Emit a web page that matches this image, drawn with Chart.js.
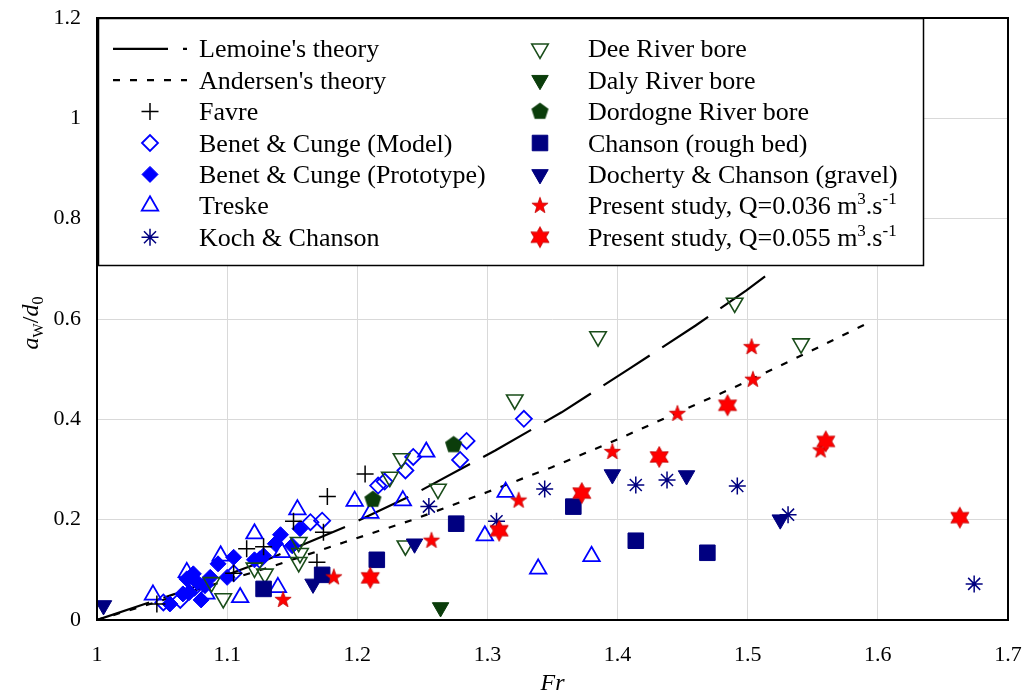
<!DOCTYPE html>
<html>
<head>
<meta charset="utf-8">
<script src="https://cdn.jsdelivr.net/npm/chart.js@4.4.0/dist/chart.umd.min.js"></script>
<style>
  html, body { margin: 0; padding: 0; background: #fff; }
  #wrap { width: 1028px; height: 698px; }
</style>
</head>
<body>
<div id="wrap"><canvas id="chart" width="1028" height="698"></canvas></div>
<script>
const xTicks = ['1', '1.1', '1.2', '1.3', '1.4', '1.5', '1.6', '1.7'];
const yTicks = ['0', '0.2', '0.4', '0.6', '0.8', '1', '1.2'];

// theory curves
const lemoine = [[1, 0], [1.06, 0.052], [1.126, 0.115], [1.192, 0.187], [1.243, 0.25], [1.306, 0.338],
  [1.357, 0.414], [1.408, 0.499], [1.46, 0.587], [1.499, 0.657], [1.521, 0.70]];
const andersen = [[1, 0], [1.07, 0.055], [1.136, 0.108], [1.19, 0.155], [1.243, 0.20], [1.30, 0.255],
  [1.35, 0.305], [1.40, 0.36], [1.45, 0.418], [1.49, 0.464], [1.55, 0.538], [1.59, 0.589]];

// measured data
const favre = [[1.046, 0.032], [1.105, 0.093], [1.115, 0.142], [1.128, 0.146], [1.151, 0.197],
  [1.169, 0.115], [1.174, 0.175], [1.177, 0.246], [1.206, 0.291]];
const benetModel = [[1.051, 0.035], [1.064, 0.040], [1.075, 0.065], [1.083, 0.070], [1.105, 0.093],
  [1.125, 0.120], [1.164, 0.195], [1.173, 0.198], [1.216, 0.268], [1.221, 0.276], [1.237, 0.298],
  [1.243, 0.325], [1.279, 0.319], [1.284, 0.357], [1.328, 0.401]];
const benetProto = [[1.056, 0.032], [1.066, 0.052], [1.069, 0.082], [1.071, 0.055], [1.074, 0.092],
  [1.077, 0.075], [1.080, 0.040], [1.083, 0.070], [1.087, 0.085], [1.093, 0.112], [1.100, 0.085],
  [1.105, 0.125], [1.121, 0.120], [1.128, 0.128], [1.137, 0.152], [1.141, 0.170], [1.150, 0.148],
  [1.156, 0.182]];
const treske = [[1.043, 0.050], [1.069, 0.095], [1.084, 0.052], [1.095, 0.128], [1.110, 0.045],
  [1.121, 0.172], [1.139, 0.065], [1.142, 0.135], [1.154, 0.220], [1.198, 0.237], [1.210, 0.213],
  [1.235, 0.238], [1.253, 0.335], [1.298, 0.168], [1.314, 0.255], [1.339, 0.102], [1.380, 0.127]];
const koch = [[1.255, 0.226], [1.307, 0.197], [1.344, 0.261], [1.414, 0.269], [1.438, 0.279],
  [1.492, 0.267], [1.531, 0.210], [1.674, 0.072]];
const dee = [[1.088, 0.075], [1.097, 0.043], [1.121, 0.104], [1.129, 0.092], [1.155, 0.155],
  [1.156, 0.133], [1.155, 0.115], [1.225, 0.285], [1.234, 0.322], [1.237, 0.148], [1.262, 0.261],
  [1.321, 0.439], [1.385, 0.565], [1.490, 0.632], [1.541, 0.551]];
const daly = [[1.264, 0.025]];
const dordogne = [[1.212, 0.240], [1.274, 0.349]];
const chanson = [[1.128, 0.062], [1.173, 0.090], [1.215, 0.120], [1.276, 0.192], [1.366, 0.226],
  [1.414, 0.158], [1.469, 0.134]];
const docherty = [[1.005, 0.029], [1.166, 0.072], [1.244, 0.152], [1.396, 0.290], [1.453, 0.288],
  [1.525, 0.200]];
const present036 = [[1.143, 0.040], [1.182, 0.085], [1.257, 0.158], [1.324, 0.238], [1.396, 0.335],
  [1.446, 0.411], [1.504, 0.479], [1.503, 0.544], [1.556, 0.338]];
const present055 = [[1.210, 0.084], [1.309, 0.178], [1.3725, 0.253], [1.432, 0.325], [1.4845, 0.428],
  [1.560, 0.356], [1.663, 0.204]];

const pts = arr => arr.map(([x, y]) => ({ x, y }));

const BLUE = '#0000ff', NAVY = '#000080', GREEN = '#0b3d0b', RED = '#ff0000';
const SERIF = '"Liberation Serif", "Times New Roman", serif';

function polyImg(n, outer, inner, fill, stroke) {
  const s = Math.ceil(outer * 2 + 3);
  const c = document.createElement('canvas');
  c.width = c.height = s;
  const g = c.getContext('2d');
  const k = inner ? n * 2 : n;
  g.beginPath();
  for (let i = 0; i < k; i++) {
    const r = inner && i % 2 ? inner : outer;
    const a = -Math.PI / 2 + i * 2 * Math.PI / k;
    const px = s / 2 + r * Math.cos(a), py = s / 2 + r * Math.sin(a);
    i ? g.lineTo(px, py) : g.moveTo(px, py);
  }
  g.closePath();
  g.fillStyle = fill;
  g.fill();
  if (stroke) { g.strokeStyle = stroke; g.lineWidth = 0.8; g.stroke(); }
  return c;
}

const pentagon = polyImg(5, 9, 0, GREEN);
const star5 = polyImg(5, 8.5, 3.4, RED, '#c00000');
const star6 = polyImg(6, 10.5, 5.9, RED, '#c00000');

const markerSet = (label, data, leg, style) => Object.assign({
  label, data: pts(data), leg, showLine: false, borderWidth: 1.8,
  backgroundColor: 'rgba(0,0,0,0)'
}, style);

const datasets = [
  markerSet('Present study, Q=0.055 m{3}.s{-1}', present055, [1, 6], { pointStyle: star6, pointRadius: 10 }),
  markerSet('Present study, Q=0.036 m{3}.s{-1}', present036, [1, 5], { pointStyle: star5, pointRadius: 8 }),
  markerSet('Koch & Chanson', koch, [0, 6], { pointStyle: 'star', pointRadius: 8.5, borderColor: NAVY, borderWidth: 1.5 }),
  markerSet('Docherty & Chanson (gravel)', docherty, [1, 4], { pointStyle: 'triangle', rotation: 180, pointRadius: 9.5, borderColor: NAVY, backgroundColor: NAVY, borderWidth: 1 }),
  markerSet('Chanson (rough bed)', chanson, [1, 3], { pointStyle: 'rect', pointRadius: 11, borderColor: NAVY, backgroundColor: NAVY, borderWidth: 1 }),
  markerSet('Dordogne River bore', dordogne, [1, 2], { pointStyle: pentagon, pointRadius: 9 }),
  markerSet('Daly River bore', daly, [1, 1], { pointStyle: 'triangle', rotation: 180, pointRadius: 9.5, borderColor: GREEN, backgroundColor: GREEN, borderWidth: 1 }),
  markerSet('Dee River bore', dee, [1, 0], { pointStyle: 'triangle', rotation: 180, pointRadius: 9.5, borderColor: '#1a4d1a', borderWidth: 1.6 }),
  markerSet('Favre', favre, [0, 2], { pointStyle: 'cross', pointRadius: 8.5, borderColor: '#000', borderWidth: 1.5 }),
  markerSet('Treske', treske, [0, 5], { pointStyle: 'triangle', pointRadius: 9.5, borderColor: BLUE, borderWidth: 1.8 }),
  markerSet('Benet & Cunge (Prototype)', benetProto, [0, 4], { pointStyle: 'rectRot', pointRadius: 8, borderColor: BLUE, backgroundColor: BLUE, borderWidth: 1 }),
  markerSet('Benet & Cunge (Model)', benetModel, [0, 3], { pointStyle: 'rectRot', pointRadius: 8, borderColor: BLUE, borderWidth: 1.8 }),
  { label: "Andersen's theory", data: pts(andersen), leg: [0, 1], showLine: true, pointRadius: 0,
    borderColor: '#000', borderWidth: 2.2, borderDash: [7, 10], fill: false },
  { label: "Lemoine's theory", data: pts(lemoine), leg: [0, 0], showLine: true, pointRadius: 0,
    borderColor: '#000', borderWidth: 2.2, borderDash: [55, 15], fill: false }
];

function drawParts(ctx, parts, x, y, align) {
  let total = 0;
  parts.forEach(p => { ctx.font = p.font; p.w = ctx.measureText(p.t).width; total += p.w; });
  let cx = align === 'center' ? x - total / 2 : x;
  parts.forEach(p => {
    ctx.font = p.font;
    ctx.fillText(p.t, cx, y + (p.dy || 0));
    cx += p.w;
  });
}

function labelParts(text) {
  return text.split(/\{([^}]*)\}/).map((t, i) => i % 2
    ? { t, font: '17px ' + SERIF, dy: -10 }
    : { t, font: '26px ' + SERIF });
}

const boxLegend = {
  id: 'boxLegend',
  afterDatasetsDraw(chart) {
    const { ctx, chartArea: a } = chart;
    ctx.save();
    const bx = a.left + 1, by = a.top, bw = 826, bh = 248;
    ctx.fillStyle = '#fff';
    ctx.fillRect(bx, by, bw, bh);
    ctx.strokeStyle = '#000';
    ctx.lineWidth = 1.5;
    ctx.strokeRect(bx + 0.5, by + 0.5, bw - 1, bh - 1);

    chart.data.datasets.forEach(ds => {
      const [col, row] = ds.leg;
      const base = by + 39.3 + row * 31.4;
      const cy = base - 8.5;
      const mx = col ? bx + 442 : bx + 52;
      const tx = col ? bx + 490 : bx + 101;
      ctx.save();
      if (ds.showLine) {
        ctx.strokeStyle = ds.borderColor;
        ctx.lineWidth = ds.borderWidth;
        ctx.setLineDash(ds.borderDash);
        ctx.beginPath();
        ctx.moveTo(bx + 15, cy);
        ctx.lineTo(bx + 89, cy);
        ctx.stroke();
      } else {
        ctx.setLineDash([]);
        ctx.fillStyle = ds.backgroundColor;
        ctx.strokeStyle = ds.borderColor || '#000';
        ctx.lineWidth = ds.borderWidth;
        Chart.helpers.drawPoint(ctx, {
          pointStyle: ds.pointStyle, rotation: ds.rotation || 0,
          radius: ds.pointRadius, borderWidth: ds.borderWidth
        }, mx, cy);
      }
      ctx.restore();
      ctx.fillStyle = '#000';
      ctx.textBaseline = 'alphabetic';
      ctx.textAlign = 'left';
      drawParts(ctx, labelParts(ds.label), tx, base, 'left');
    });
    ctx.restore();
  },
  afterDraw(chart) {
    const { ctx, chartArea: a } = chart;
    ctx.save();
    ctx.strokeStyle = '#000';
    ctx.lineWidth = 2;
    ctx.strokeRect(a.left, a.top, a.right - a.left, a.bottom - a.top);

    // y axis title  a_W / d_0
    ctx.translate(30, (a.top + a.bottom) / 2 + 4);
    ctx.rotate(-Math.PI / 2);
    ctx.fillStyle = '#000';
    ctx.textBaseline = 'alphabetic';
    ctx.textAlign = 'left';
    drawParts(ctx, [
      { t: 'a', font: 'italic 24px ' + SERIF },
      { t: 'W', font: '15px ' + SERIF, dy: 5 },
      { t: '/', font: '24px ' + SERIF },
      { t: 'd', font: 'italic 24px ' + SERIF },
      { t: '0', font: '16px ' + SERIF, dy: 5 }
    ], 0, 8, 'center');
    ctx.restore();
  }
};

const findLabel = (list, v) => {
  const hit = list.find(t => Math.abs(Number(t) - v) < 1e-6);
  return hit === undefined ? '' : hit;
};

new Chart(document.getElementById('chart'), {
  type: 'scatter',
  data: { datasets },
  options: {
    responsive: false,
    devicePixelRatio: 1,
    animation: false,
    events: [],
    layout: { padding: { top: 18, right: 20, left: 0, bottom: 0 } },
    plugins: { legend: { display: false }, tooltip: { enabled: false } },
    scales: {
      x: {
        type: 'linear', min: 1, max: 1.7,
        afterFit: s => { s.height = 78; s.paddingLeft = 0; s.paddingRight = 0; },
        grid: { color: '#d9d9d9', drawTicks: false },
        border: { display: false },
        ticks: {
          stepSize: 0.1, autoSkip: false, padding: 22, color: '#000',
          font: { family: SERIF, size: 22 },
          callback: v => findLabel(xTicks, v)
        },
        title: {
          display: true, text: 'Fr', color: '#000',
          font: { family: SERIF, size: 24, style: 'italic' },
          padding: { top: 0, bottom: 0 }
        }
      },
      y: {
        type: 'linear', min: 0, max: 1.2,
        afterFit: s => { s.width = 97; s.paddingTop = 0; s.paddingBottom = 0; },
        grid: { color: '#d9d9d9', drawTicks: false },
        border: { display: false },
        ticks: {
          stepSize: 0.2, autoSkip: false, padding: 16, color: '#000',
          font: { family: SERIF, size: 22 },
          callback: v => findLabel(yTicks, v)
        }
      }
    }
  },
  plugins: [boxLegend]
});
</script>
</body>
</html>
